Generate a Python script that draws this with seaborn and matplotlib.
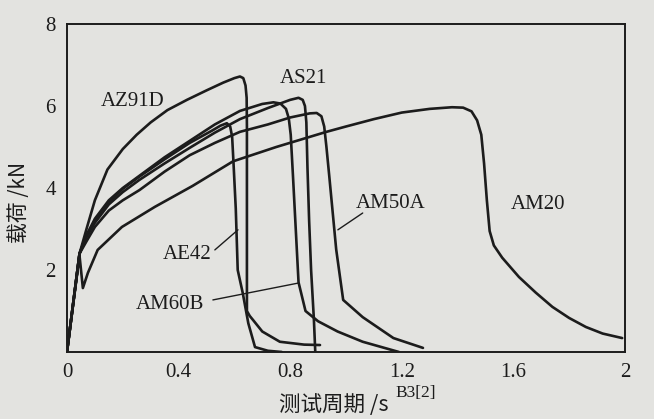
#!/usr/bin/env python3
"""Load vs. test period curves for die-cast Mg alloys."""

import pandas as pd
import matplotlib
matplotlib.use("Agg")
import matplotlib.pyplot as plt
import seaborn as sns

# curve points (test period /s, load /kN)
az91d_x = [0, 0.045, 0.07, 0.1, 0.145, 0.2, 0.25, 0.3, 0.36, 0.43, 0.5, 0.56, 0.6, 0.62,
           0.632, 0.64, 0.644, 0.645, 0.645, 0.655, 0.667, 0.7, 0.763, 0.85, 0.907]
az91d_y = [0, 2.4, 3.0, 3.7, 4.45, 4.95, 5.3, 5.6, 5.9, 6.15, 6.38, 6.57, 6.68, 6.72,
           6.68, 6.5, 6.2, 5.5, 1.0, 0.88, 0.78, 0.5, 0.25, 0.18, 0.17]

ae42_x = [0, 0.045, 0.07, 0.1, 0.15, 0.2, 0.26, 0.35, 0.44, 0.52, 0.55, 0.573, 0.585,
          0.592, 0.597, 0.605, 0.612, 0.63, 0.65, 0.674, 0.72, 0.77]
ae42_y = [0, 2.4, 2.85, 3.2, 3.65, 3.98, 4.28, 4.7, 5.1, 5.4, 5.52, 5.58, 5.5,
          5.25, 4.6, 3.5, 2.0, 1.44, 0.7, 0.12, 0.03, 0.0]

am60b_x = [0, 0.045, 0.07, 0.1, 0.15, 0.2, 0.26, 0.35, 0.44, 0.53, 0.62, 0.7, 0.74,
           0.765, 0.785, 0.795, 0.802, 0.81, 0.82, 0.83, 0.855, 0.9, 0.97, 1.06, 1.19]
am60b_y = [0, 2.4, 2.85, 3.25, 3.7, 4.0, 4.3, 4.75, 5.15, 5.55, 5.88, 6.05, 6.09,
           6.06, 5.93, 5.7, 5.3, 4.3, 3.0, 1.7, 1.0, 0.75, 0.5, 0.25, 0.0]

as21_x = [0, 0.045, 0.07, 0.1, 0.15, 0.2, 0.26, 0.35, 0.44, 0.53, 0.62, 0.72, 0.8,
          0.83, 0.845, 0.853, 0.858, 0.862, 0.868, 0.875, 0.885, 0.89]
as21_y = [0, 2.4, 2.8, 3.15, 3.6, 3.9, 4.2, 4.6, 4.98, 5.35, 5.68, 5.95, 6.15,
          6.2, 6.15, 6.0, 5.6, 4.5, 3.2, 2.0, 0.8, 0.0]

am50a_x = [0, 0.045, 0.07, 0.1, 0.15, 0.2, 0.26, 0.35, 0.44, 0.53, 0.62, 0.72, 0.8,
           0.87, 0.895, 0.912, 0.922, 0.93, 0.94, 0.965, 0.99, 1.06, 1.17, 1.276]
am50a_y = [0, 2.4, 2.7, 3.05, 3.45, 3.7, 3.95, 4.4, 4.8, 5.1, 5.37, 5.55, 5.72,
           5.82, 5.83, 5.75, 5.5, 5.0, 4.3, 2.5, 1.27, 0.85, 0.34, 0.1]

am20_x = [0, 0.045, 0.057, 0.075, 0.11, 0.197, 0.315, 0.45, 0.595, 0.75, 0.93, 1.0, 1.1,
          1.2, 1.3, 1.38, 1.42, 1.45, 1.47, 1.485, 1.495, 1.505, 1.515, 1.53, 1.56,
          1.62, 1.68, 1.74, 1.8, 1.86, 1.92, 1.99]
am20_y = [0, 2.35, 1.56, 1.93, 2.49, 3.05, 3.54, 4.05, 4.65, 5.0, 5.37, 5.5, 5.68,
          5.84, 5.93, 5.97, 5.96, 5.87, 5.65, 5.3, 4.6, 3.7, 2.95, 2.6, 2.3,
          1.83, 1.45, 1.1, 0.83, 0.61, 0.45, 0.34]

x_ticks = [0, 0.4, 0.8, 1.2, 1.6, 2]
x_tick_labels = ["0", "0.4", "0.8", "1.2", "1.6", "2"]
y_ticks = [2, 4, 6, 8]
y_tick_labels = ["2", "4", "6", "8"]

curves = {
    "AZ91D": (az91d_x, az91d_y),
    "AE42": (ae42_x, ae42_y),
    "AM60B": (am60b_x, am60b_y),
    "AS21": (as21_x, as21_y),
    "AM50A": (am50a_x, am50a_y),
    "AM20": (am20_x, am20_y),
}

bg = "#e3e3e0"
ink = "#1c1c1c"
cjk = ["Noto Sans CJK SC", "DejaVu Sans"]

sns.set_style("white")
plt.rcParams["font.family"] = ["Liberation Serif", "DejaVu Serif"]

rows = []
for name, (xs, ys) in curves.items():
    for x, y in zip(xs, ys):
        rows.append({"alloy": name, "t": x, "load": y})
df = pd.DataFrame(rows)

fig = plt.figure(figsize=(6.54, 4.19), dpi=100, facecolor=bg)
ax = fig.add_axes([0.1024, 0.1599, 0.8532, 0.7828], facecolor=bg)

for name in curves:
    sns.lineplot(data=df[df["alloy"] == name], x="t", y="load", sort=False,
                 estimator=None, color=ink, linewidth=1.9, ax=ax)

ax.set_xlim(0, 2)
ax.set_ylim(0, 8)
ax.set_xticks(x_ticks)
ax.set_xticklabels(x_tick_labels)
ax.set_yticks(y_ticks)
ax.set_yticklabels(y_tick_labels)
ax.tick_params(direction="in", length=5, width=1.2, color=ink,
               labelsize=15, labelcolor=ink, pad=8)
for side in ax.spines.values():
    side.set_color(ink)
    side.set_linewidth(1.4)

ax.set_xlabel("")
ax.set_ylabel("载荷 /kN", family=cjk, fontsize=15, color=ink)
ax.yaxis.set_label_coords(-0.066, 0.457)
fig.text(0.51, 0.033, "测试周期 /s", family=cjk, fontsize=15.5, color=ink,
         ha="center", va="center")
fig.text(0.605, 0.062, "B3[2]", fontsize=12.5, color=ink, ha="left", va="center")

# curve labels and leader lines
lab = dict(fontsize=15, color=ink, ha="center", va="center")
ax.text(0.237, 6.12, "AZ91D", **lab)
ax.text(0.846, 6.68, "AS21", **lab)
ax.text(1.16, 3.63, "AM50A", **lab)
ax.text(1.69, 3.59, "AM20", **lab)
ax.text(0.43, 2.37, "AE42", **lab)
ax.text(0.37, 1.15, "AM60B", **lab)
ax.plot([1.06, 0.971], [3.39, 2.98], color=ink, linewidth=1.0)
ax.plot([0.53, 0.613], [2.49, 2.98], color=ink, linewidth=1.0)
ax.plot([0.523, 0.828], [1.27, 1.68], color=ink, linewidth=1.0)

fig.savefig("out.png", dpi=100, facecolor=bg)
